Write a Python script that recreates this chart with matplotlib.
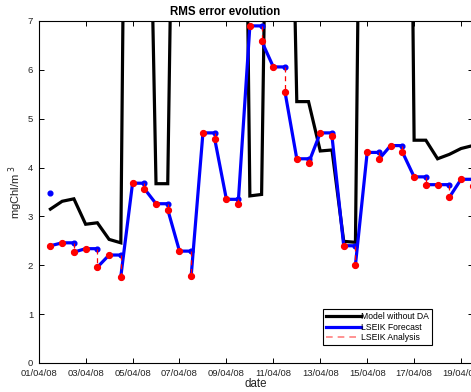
import numpy as np
import matplotlib
matplotlib.use('Agg')
import matplotlib.pyplot as plt

plt.rcParams['font.family'] = ['Liberation Sans', 'DejaVu Sans']

# days since 01/04/08 00:00
tick_days = [0, 2, 4, 6, 8, 10, 12, 14, 16, 18]
tick_labels = ['01/04/08', '03/04/08', '05/04/08', '07/04/08', '09/04/08',
               '11/04/08', '13/04/08', '15/04/08', '17/04/08', '19/04/08']

# Model without DA (half-day output, values above 7 run off the chart)
model_days = [0.5, 1.0, 1.5, 2.0, 2.5, 3.0, 3.5, 4.0, 4.5, 5.0, 5.5, 6.0, 6.5,
              7.0, 7.5, 8.0, 8.5, 9.0, 9.5, 10.0, 10.5, 11.0, 11.5, 12.0, 12.5,
              13.0, 13.5, 14.0, 14.5, 15.0, 15.5, 16.0, 16.5, 17.0, 17.5, 18.0, 18.5]
model_rms = [3.15, 3.31, 3.36, 2.84, 2.87, 2.53, 2.46, 28.0, 16.0, 3.67, 3.67, 20.0, 25.0,
             25.0, 25.0, 25.0, 24.0, 3.42, 3.45, 20.0, 17.0, 5.35, 5.35, 4.34, 4.36,
             2.49, 2.47, 25.0, 25.0, 25.0, 29.0, 4.56, 4.56, 4.18, 4.27, 4.39, 4.45]

# LSEIK: analysis every day at 12h, forecast over the next day
analysis_days = [0.5, 1.5, 2.5, 3.5, 4.5, 5.5, 6.5, 7.5, 8.5, 9.5,
                 10.5, 11.5, 12.5, 13.5, 14.5, 15.5, 16.5, 17.5, 18.5]
analysis_rms = [2.40, 2.27, 1.96, 1.77, 3.57, 3.14, 1.79, 4.59, 3.25, 6.59,
                5.54, 4.09, 4.64, 2.01, 4.17, 4.32, 3.65, 3.39, 3.62]
forecast_rms = [2.46, 2.34, 2.21, 3.68, 3.26, 2.29, 4.71, 3.35, 6.90, 6.06,
                4.18, 4.71, 2.40, 4.31, 4.45, 3.81, 3.65, 3.76]
first_forecast = 3.48

fig = plt.figure(figsize=(4.71, 3.92), dpi=100)
ax = fig.add_axes([38.7 / 471, 29 / 392, 434.3 / 471, 342 / 392])

ax.plot(model_days, model_rms, color='black', lw=2.3, label='Model without DA',
        solid_joinstyle='miter', zorder=2)

# forecast trajectories, one per analysis cycle
fx, fy = [], []
for k in range(len(forecast_rms)):
    t = analysis_days[k]
    fx += [t, t + 0.5, t + 1.0, np.nan]
    fy += [analysis_rms[k], forecast_rms[k], forecast_rms[k], np.nan]
ax.plot(fx, fy, color='blue', lw=2.3, label='LSEIK Forecast', zorder=3)
ax.plot(fx, fy, 'o', color='blue', ms=3.4, mec='blue', zorder=3)
ax.plot([analysis_days[0]], [first_forecast], 'o', color='blue', ms=3.4, zorder=3)

# analysis jumps
ax_x, ax_y = [], []
for k in range(len(forecast_rms)):
    t = analysis_days[k + 1]
    ax_x += [t, t, np.nan]
    ax_y += [forecast_rms[k], analysis_rms[k + 1], np.nan]
ax.plot(ax_x, ax_y, color='red', lw=0.9, ls=(0, (4, 3)), zorder=4,
        label='LSEIK Analysis')
mx = list(analysis_days) + [t + 0.5 for t in analysis_days[:-1]]
my = list(analysis_rms) + list(forecast_rms)
ax.plot(mx, my, 'o', color='red', ms=4.2, mec='red', zorder=5)

ax.set_xlim(0, 18.51)
ax.set_ylim(0, 7)
ax.set_xticks(tick_days)
ax.set_xticklabels(tick_labels)
ax.set_yticks(range(8))
ax.tick_params(direction='in', top=True, right=True, length=3.5, width=0.7,
               labelsize=6.8, labelcolor='#222222', pad=4)
for s in ax.spines.values():
    s.set_linewidth(0.8)

ax.text(0.43, 1.026, 'RMS error evolution', transform=ax.transAxes,
        ha='center', va='center', fontsize=8.3, fontweight='bold')
ax.set_ylabel('mgChl/m $^3$', fontsize=8, color='#222222')
ax.yaxis.set_label_coords(-0.032, 0.5)
ax.set_xlabel('date', fontsize=8.3, color='#222222')
ax.xaxis.set_label_coords(0.5, -0.045)

leg = ax.legend(loc='lower left', bbox_to_anchor=(0.655, 0.053), borderaxespad=0,
                fontsize=6.2, handlelength=4.0, handletextpad=0.1,
                labelspacing=0.15, borderpad=0.35, fancybox=False, framealpha=1)
leg.get_frame().set_edgecolor('black')
leg.get_frame().set_linewidth(0.8)
leg.get_lines()[2].set_color('#ff8080')
leg.get_lines()[2].set_linewidth(1.2)

fig.savefig('out.png', dpi=100)
